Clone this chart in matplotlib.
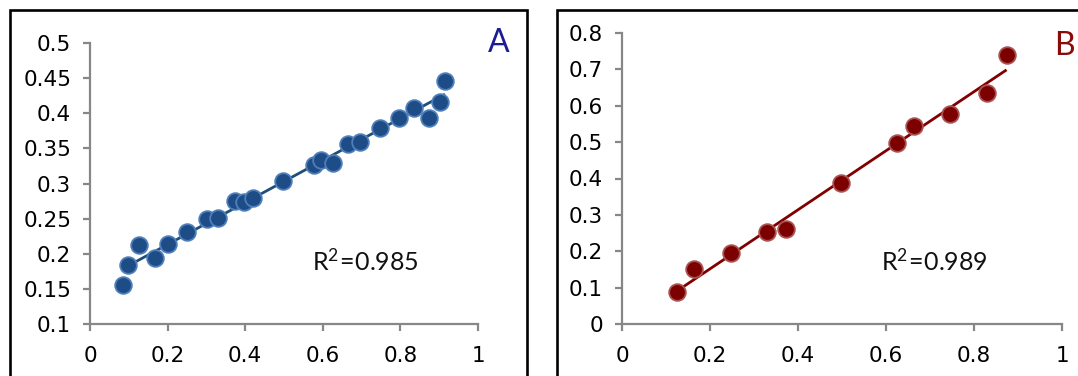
import numpy as np
import matplotlib
matplotlib.use("Agg")
import matplotlib.pyplot as plt
from matplotlib.lines import Line2D

plt.rcParams["mathtext.fontset"] = "custom"
plt.rcParams["mathtext.rm"] = "Lato"
plt.rcParams["mathtext.it"] = "Lato:italic"
plt.rcParams["mathtext.bf"] = "Lato:bold"

# === Data ===
a_x = [0.084, 0.097, 0.126, 0.167, 0.201, 0.250, 0.302, 0.331, 0.373, 0.398, 0.419, 0.497,
       0.578, 0.596, 0.625, 0.665, 0.696, 0.747, 0.796, 0.835, 0.873, 0.901, 0.915]
a_y = [0.155, 0.184, 0.212, 0.194, 0.214, 0.231, 0.249, 0.251, 0.275, 0.273, 0.279, 0.303,
       0.327, 0.334, 0.329, 0.356, 0.359, 0.379, 0.393, 0.408, 0.393, 0.416, 0.446]
b_x = [0.126, 0.164, 0.248, 0.330, 0.373, 0.497, 0.624, 0.664, 0.746, 0.830, 0.874]
b_y = [0.087, 0.152, 0.194, 0.252, 0.261, 0.389, 0.497, 0.544, 0.576, 0.635, 0.740]

x_ticks = [0, 0.2, 0.4, 0.6, 0.8, 1]
x_labels = ["0", "0.2", "0.4", "0.6", "0.8", "1"]
a_yticks = [0.1, 0.15, 0.2, 0.25, 0.3, 0.35, 0.4, 0.45, 0.5]
a_ylabels = ["0.1", "0.15", "0.2", "0.25", "0.3", "0.35", "0.4", "0.45", "0.5"]
b_yticks = [0, 0.1, 0.2, 0.3, 0.4, 0.5, 0.6, 0.7, 0.8]
b_ylabels = ["0", "0.1", "0.2", "0.3", "0.4", "0.5", "0.6", "0.7", "0.8"]

r2_a = r"$\mathrm{R^{2}\!=\!0.985}$"
r2_b = r"$\mathrm{R^{2}\!=\!0.989}$"

# === Style ===
W, H = 1078, 376
AXIS_COLOR = "#878787"
TICK_FONT = 15.5

fig = plt.figure(figsize=(W / 100, H / 100), dpi=100)


def px(x, y):
    # pixel (from top-left) -> figure fraction
    return x / W, 1 - y / H


def make_axes(left, right, top, bottom):
    l, t = px(left, top)
    r, b = px(right, bottom)
    return fig.add_axes([l, b, r - l, t - b])


def style_axes(ax, ylim, yticks, ylabels):
    ax.set_xlim(0, 1)
    ax.set_ylim(*ylim)
    ax.set_xticks(x_ticks)
    ax.set_xticklabels(x_labels)
    ax.set_yticks(yticks)
    ax.set_yticklabels(ylabels)
    for side in ["top", "right"]:
        ax.spines[side].set_visible(False)
    for side in ["left", "bottom"]:
        ax.spines[side].set_color(AXIS_COLOR)
        ax.spines[side].set_linewidth(1.6)
    ax.tick_params(axis="both", direction="out", length=5, width=1.6,
                   color=AXIS_COLOR, labelsize=TICK_FONT, labelcolor="black")
    ax.tick_params(axis="x", pad=10.5)
    ax.tick_params(axis="y", pad=8.5)
    for lab in ax.get_xticklabels() + ax.get_yticklabels():
        lab.set_family("DejaVu Sans")
    ax.patch.set_alpha(0)


def scatter_fit(ax, x, y, face, edge, line_color):
    x = np.array(x)
    y = np.array(y)
    k, c = np.polyfit(x, y, 1)
    xs = np.array([x.min(), x.max()])
    ax.plot(xs, k * xs + c, color=line_color, lw=2, zorder=2, solid_capstyle="butt")
    ax.plot(x, y, "o", ms=12, mfc=face, mec=edge, mew=1.3, zorder=3, clip_on=False)


# === Panel A ===
ax_a = make_axes(90, 478, 43, 324)
style_axes(ax_a, (0.1, 0.5), a_yticks, a_ylabels)
scatter_fit(ax_a, a_x, a_y, "#1d4c87", "#4f7fbb", "#1f4e79")

# === Panel B ===
ax_b = make_axes(622, 1062, 33, 324)
style_axes(ax_b, (0, 0.8), b_yticks, b_ylabels)
scatter_fit(ax_b, b_x, b_y, "#7d0000", "#a85252", "#800000")

# === Texts ===
fig.text(*px(312, 271), r2_a, fontsize=18, color="#111111",
         ha="left", va="baseline")
fig.text(*px(881, 271), r2_b, fontsize=18, color="#111111",
         ha="left", va="baseline")
fig.text(*px(499, 52), "A", fontsize=23, family="Lato", color="#1c1c94",
         ha="center", va="baseline")
fig.text(*px(1064, 55), "B", fontsize=23, family="Lato", color="#8b0a0a",
         ha="center", va="baseline")

# === Panel frames ===
frame = dict(color="black", lw=1.9, solid_capstyle="projecting",
             solid_joinstyle="miter", transform=fig.transFigure)
x0, y0 = px(9.5, 9.5)
x1, _ = px(526.5, 0)
fig.add_artist(Line2D([x0, x0, x1, x1], [0, y0, y0, 0], **frame))
x2, _ = px(556.5, 0)
fig.add_artist(Line2D([x2, x2, 1.01], [0, y0, y0], **frame))

fig.savefig("out.png", dpi=100)
